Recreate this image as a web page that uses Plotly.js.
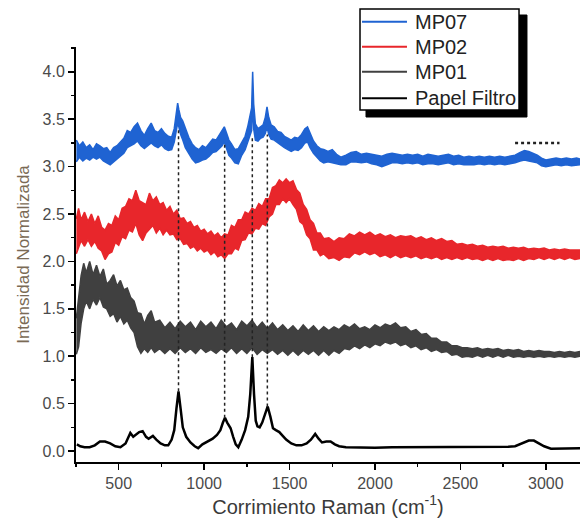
<!DOCTYPE html>
<html>
<head>
<meta charset="utf-8">
<script src="https://cdn.plot.ly/plotly-3.0.1.min.js"></script>
<style>
  html, body { margin: 0; padding: 0; background: #ffffff; }
  #chart { width: 582px; height: 525px; }
</style>
</head>
<body>
<div id="chart"></div>
<script>
// ---------- data ----------
const seriesNames = ["MP07", "MP02", "MP01", "Papel Filtro"];

// MP07 (blue): upper / lower edges of the noisy trace
const mp07X = [252,270,290,310,330,350,370,390,410,430,450,470,490,510,530,550,570,590,610,630,650,670,690,710,730,750,770,790,810,825,838,845,852,862,875,890,910,930,950,970,990,1010,1030,1050,1070,1090,1105,1118,1130,1145,1160,1180,1200,1220,1240,1255,1268,1278,1284,1290,1300,1315,1330,1345,1358,1368,1378,1392,1410,1430,1450,1470,1490,1510,1530,1550,1570,1590,1605,1620,1640,1660,1680,1700,1725,1750,1775,1800,1830,1860,1890,1920,1950,1980,2010,2040,2070,2100,2130,2160,2190,2220,2250,2280,2310,2340,2370,2400,2430,2460,2490,2520,2550,2580,2610,2640,2670,2700,2730,2760,2790,2820,2850,2875,2900,2925,2950,2975,3000,3030,3060,3090,3120,3150,3180,3200];
const mp07Hi = [3.28,3.22,3.26,3.20,3.23,3.18,3.24,3.22,3.19,3.20,3.15,3.20,3.22,3.26,3.30,3.38,3.36,3.42,3.46,3.38,3.33,3.40,3.46,3.38,3.36,3.40,3.35,3.32,3.31,3.40,3.56,3.67,3.60,3.52,3.48,3.40,3.31,3.24,3.20,3.18,3.22,3.20,3.25,3.29,3.28,3.34,3.38,3.42,3.36,3.28,3.24,3.18,3.19,3.26,3.32,3.42,3.52,3.62,4.00,3.66,3.45,3.40,3.42,3.44,3.52,3.63,3.52,3.44,3.42,3.37,3.36,3.32,3.30,3.28,3.31,3.30,3.34,3.40,3.42,3.35,3.27,3.22,3.19,3.18,3.16,3.18,3.13,3.10,3.12,3.15,3.16,3.13,3.14,3.13,3.12,3.11,3.13,3.14,3.13,3.12,3.13,3.12,3.13,3.11,3.13,3.12,3.11,3.12,3.13,3.11,3.12,3.10,3.11,3.10,3.11,3.10,3.11,3.10,3.11,3.10,3.11,3.12,3.15,3.17,3.16,3.14,3.12,3.09,3.07,3.08,3.09,3.08,3.09,3.08,3.09,3.08];
const mp07Lo = [3.05,3.10,3.06,3.09,3.07,3.10,3.08,3.10,3.06,3.04,3.02,3.05,3.08,3.10,3.14,3.20,3.22,3.24,3.27,3.22,3.19,3.22,3.25,3.22,3.20,3.23,3.19,3.17,3.18,3.26,3.38,3.46,3.42,3.34,3.28,3.20,3.14,3.08,3.04,3.05,3.07,3.08,3.11,3.15,3.16,3.19,3.22,3.26,3.20,3.12,3.09,3.04,3.03,3.12,3.18,3.26,3.32,3.38,3.70,3.40,3.28,3.27,3.30,3.31,3.35,3.42,3.34,3.29,3.28,3.25,3.22,3.20,3.18,3.16,3.18,3.17,3.20,3.25,3.26,3.20,3.14,3.10,3.06,3.04,3.05,3.04,3.03,3.02,3.02,3.05,3.05,3.04,3.05,3.03,3.02,3.00,3.02,3.04,3.04,3.03,3.04,3.03,3.04,3.02,3.03,3.03,3.02,3.03,3.04,3.02,3.03,3.02,3.02,3.02,3.03,3.02,3.03,3.02,3.03,3.02,3.03,3.04,3.06,3.07,3.06,3.05,3.04,3.01,3.00,3.01,3.02,3.01,3.02,3.01,3.02,3.02];

// MP02 (red)
const mp02X = [252,265,280,300,320,340,360,380,400,420,440,460,480,500,520,540,560,580,600,620,640,660,680,700,720,740,760,780,800,820,840,860,880,900,920,940,960,980,1000,1020,1040,1060,1080,1100,1120,1140,1160,1180,1200,1220,1240,1260,1280,1300,1320,1340,1360,1380,1400,1420,1440,1460,1480,1500,1520,1540,1560,1580,1600,1620,1640,1660,1680,1700,1730,1760,1790,1820,1850,1880,1910,1940,1970,2000,2030,2060,2090,2120,2150,2180,2210,2240,2270,2300,2330,2360,2390,2420,2450,2480,2510,2540,2570,2600,2630,2660,2690,2720,2750,2780,2810,2840,2870,2900,2930,2960,2990,3020,3050,3080,3110,3140,3170,3200];
const mp02Hi = [2.45,2.56,2.44,2.52,2.42,2.50,2.40,2.48,2.36,2.33,2.40,2.38,2.48,2.44,2.56,2.58,2.66,2.64,2.75,2.64,2.62,2.60,2.72,2.64,2.68,2.60,2.62,2.54,2.58,2.50,2.54,2.45,2.46,2.40,2.42,2.36,2.38,2.32,2.34,2.29,2.32,2.27,2.30,2.25,2.29,2.28,2.38,2.36,2.44,2.44,2.52,2.50,2.56,2.54,2.61,2.58,2.66,2.66,2.78,2.80,2.86,2.83,2.87,2.83,2.85,2.76,2.72,2.60,2.55,2.44,2.40,2.30,2.30,2.24,2.25,2.21,2.25,2.24,2.29,2.27,2.31,2.28,2.31,2.27,2.29,2.26,2.28,2.25,2.27,2.26,2.27,2.24,2.26,2.23,2.25,2.22,2.24,2.21,2.22,2.18,2.19,2.17,2.18,2.16,2.17,2.15,2.16,2.15,2.16,2.14,2.15,2.14,2.15,2.13,2.14,2.13,2.14,2.12,2.13,2.12,2.13,2.12,2.12,2.12];
const mp02Lo = [2.08,2.15,2.22,2.16,2.23,2.16,2.21,2.14,2.11,2.02,2.08,2.10,2.20,2.17,2.26,2.24,2.33,2.31,2.40,2.28,2.22,2.30,2.34,2.38,2.30,2.35,2.28,2.33,2.28,2.29,2.23,2.24,2.18,2.19,2.14,2.16,2.11,2.14,2.10,2.12,2.07,2.10,2.05,2.07,2.03,2.08,2.08,2.14,2.12,2.22,2.23,2.30,2.29,2.35,2.34,2.40,2.38,2.47,2.50,2.60,2.60,2.66,2.62,2.66,2.60,2.55,2.42,2.39,2.28,2.24,2.12,2.12,2.06,2.08,2.03,2.04,2.01,2.05,2.04,2.09,2.07,2.10,2.07,2.09,2.05,2.07,2.04,2.07,2.04,2.06,2.04,2.06,2.03,2.05,2.03,2.05,2.02,2.04,2.02,2.04,2.02,2.04,2.02,2.03,2.01,2.03,2.01,2.03,2.01,2.02,2.01,2.03,2.01,2.03,2.02,2.04,2.02,2.04,2.02,2.04,2.02,2.04,2.02,2.03];

// MP01 (dark grey)
const mp01X = [252,265,280,295,310,330,350,370,390,410,430,450,470,490,510,530,550,570,590,610,630,650,670,690,710,740,770,800,830,860,890,920,950,980,1010,1040,1070,1100,1130,1160,1190,1220,1250,1280,1310,1340,1370,1400,1430,1460,1490,1520,1550,1580,1610,1640,1670,1700,1730,1760,1790,1820,1850,1880,1910,1940,1970,2000,2030,2060,2090,2120,2150,2180,2210,2240,2270,2300,2330,2360,2390,2420,2450,2480,2510,2540,2570,2600,2630,2660,2690,2720,2750,2780,2810,2840,2870,2900,2930,2960,2990,3020,3050,3080,3110,3140,3170,3200];
const mp01Hi = [1.40,1.60,1.85,1.98,1.88,2.00,1.86,1.96,1.84,1.92,1.76,1.80,1.86,1.74,1.80,1.70,1.72,1.62,1.58,1.46,1.45,1.34,1.43,1.48,1.36,1.38,1.30,1.36,1.29,1.37,1.31,1.36,1.28,1.37,1.31,1.36,1.29,1.38,1.31,1.35,1.28,1.37,1.32,1.38,1.30,1.36,1.29,1.35,1.28,1.33,1.27,1.32,1.26,1.33,1.27,1.32,1.26,1.31,1.27,1.31,1.28,1.33,1.30,1.34,1.29,1.31,1.28,1.33,1.30,1.34,1.32,1.35,1.30,1.31,1.26,1.28,1.23,1.24,1.19,1.19,1.15,1.15,1.11,1.11,1.09,1.09,1.08,1.09,1.07,1.08,1.07,1.08,1.06,1.07,1.06,1.07,1.05,1.06,1.05,1.06,1.05,1.05,1.04,1.05,1.04,1.05,1.04,1.05];
const mp01Lo = [1.02,1.10,1.35,1.50,1.58,1.50,1.60,1.54,1.62,1.52,1.50,1.42,1.45,1.36,1.42,1.34,1.38,1.30,1.25,1.10,1.03,1.08,1.04,1.09,1.04,1.08,1.03,1.08,1.03,1.09,1.04,1.08,1.03,1.09,1.04,1.07,1.03,1.08,1.04,1.09,1.03,1.08,1.03,1.09,1.02,1.07,1.03,1.07,1.02,1.06,1.01,1.06,1.01,1.06,1.02,1.06,1.01,1.06,1.01,1.06,1.03,1.08,1.07,1.11,1.08,1.12,1.09,1.13,1.11,1.15,1.13,1.15,1.11,1.13,1.09,1.11,1.07,1.09,1.05,1.07,1.04,1.05,1.01,1.02,0.99,1.00,0.99,1.01,0.99,1.01,0.99,1.01,0.99,1.01,0.99,1.00,0.99,1.00,0.99,1.00,0.99,1.00,0.99,1.00,0.99,1.00,0.99,1.00];

// Papel Filtro (black)
const pfX = [255,275,300,330,360,390,420,450,480,510,540,568,585,600,620,640,660,675,700,720,745,770,790,810,825,838,850,862,875,895,920,945,965,990,1020,1050,1075,1095,1110,1122,1135,1155,1170,1185,1200,1220,1240,1258,1270,1282,1292,1302,1312,1325,1340,1355,1372,1388,1403,1420,1440,1460,1480,1510,1540,1570,1600,1625,1650,1670,1690,1715,1740,1765,1790,1830,1900,2000,2100,2200,2300,2400,2500,2600,2700,2780,2820,2860,2900,2930,2960,2990,3030,3080,3120,3160,3200];
const pfY = [0.07,0.05,0.04,0.04,0.06,0.10,0.10,0.08,0.05,0.04,0.08,0.19,0.15,0.17,0.20,0.21,0.15,0.13,0.16,0.12,0.08,0.06,0.06,0.12,0.22,0.45,0.63,0.45,0.25,0.15,0.09,0.05,0.03,0.07,0.10,0.13,0.17,0.22,0.30,0.35,0.30,0.24,0.15,0.07,0.04,0.12,0.22,0.36,0.60,0.99,0.60,0.32,0.26,0.25,0.30,0.38,0.47,0.36,0.24,0.22,0.20,0.16,0.12,0.08,0.06,0.06,0.08,0.12,0.18,0.13,0.09,0.10,0.10,0.07,0.05,0.04,0.035,0.035,0.04,0.04,0.04,0.04,0.04,0.04,0.04,0.045,0.05,0.08,0.11,0.11,0.08,0.05,0.025,0.025,0.03,0.025,0.03];

// dotted guide lines linking bands (position, bottom value, top value)
const guideX = [850, 1120, 1282, 1370];
const guideBottom = [0.63, 0.35, 0.99, 0.47];
const guideTop = [3.40, 3.26, 3.32, 3.34];
// small dotted mark at top right
const markX = [2820, 3080];
const markY = 3.25;

// tick labels
const xTicks = [500, 1000, 1500, 2000, 2500, 3000];
const yTicks = [0.0, 0.5, 1.0, 1.5, 2.0, 2.5, 3.0, 3.5, 4.0];

// ---------- build the figure ----------
const seriesColors = ["#1f63d2", "#e8262b", "#404040", "#000000"];

function band(name, color, x, hi, lo) {
  return [
    { x: x, y: lo, type: "scatter", mode: "lines", name: name, showlegend: false,
      line: { color: color, width: 1.5 }, hoverinfo: "skip" },
    { x: x, y: hi, type: "scatter", mode: "lines", name: name, showlegend: false,
      fill: "tonexty", fillcolor: color,
      line: { color: color, width: 1.5 }, hoverinfo: "skip" }
  ];
}

const data = [].concat(
  band(seriesNames[0], seriesColors[0], mp07X, mp07Hi, mp07Lo),
  band(seriesNames[1], seriesColors[1], mp02X, mp02Hi, mp02Lo),
  band(seriesNames[2], seriesColors[2], mp01X, mp01Hi, mp01Lo),
  [{ x: pfX, y: pfY, type: "scatter", mode: "lines", name: seriesNames[3], showlegend: false,
     line: { color: seriesColors[3], width: 2.5 }, hoverinfo: "skip" }]
);

const shapes = guideX.map((gx, i) => ({
  type: "line", xref: "x", yref: "y", x0: gx, x1: gx, y0: guideBottom[i], y1: guideTop[i],
  line: { color: "#222", width: 1.5, dash: "dot" }, layer: "above"
}));
shapes.push({
  type: "line", xref: "x", yref: "y", x0: markX[0], x1: markX[1], y0: markY, y1: markY,
  line: { color: "#222", width: 2.5, dash: "dot" }
});

// legend box (drawn by hand to match the boxed, shadowed legend)
const legBox = { x0: 0.5635, x1: 0.8790, y0: 0.848, y1: 1.0916 };
const legRows = [1.061, 1.0007, 0.9405, 0.8764];
const legLine = [0.5675, 0.6567];
const legTextX = 0.6687;
// drop shadow as one L-shaped polygon (paper coordinates)
shapes.push({ type: "path", xref: "paper", yref: "paper",
  path: "M 0.5754 0.8313 L 0.8948 0.8313 L 0.8948 1.0771 L 0.8790 1.0771 L 0.8790 0.8480 L 0.5754 0.8480 Z",
  fillcolor: "#000000", line: { color: "#000000", width: 1 }, layer: "above" });
shapes.push({ type: "rect", xref: "paper", yref: "paper", x0: legBox.x0, x1: legBox.x1, y0: legBox.y0, y1: legBox.y1,
  fillcolor: "#ffffff", line: { color: "#000", width: 1.5 }, layer: "above" });
const font = "Arial, 'Liberation Sans', sans-serif";
const annotations = [];
seriesNames.forEach((nm, i) => {
  shapes.push({ type: "line", xref: "paper", yref: "paper", x0: legLine[0], x1: legLine[1], y0: legRows[i], y1: legRows[i],
    line: { color: seriesColors[i], width: 2 }, layer: "above" });
  annotations.push({ xref: "paper", yref: "paper", x: legTextX, y: legRows[i], xanchor: "left", yanchor: "middle",
    text: nm, showarrow: false, font: { family: font, size: 20, color: "#222" } });
});

const layout = {
  width: 582, height: 525,
  margin: { l: 76, r: 2, t: 47, b: 63 },
  paper_bgcolor: "#ffffff", plot_bgcolor: "#ffffff",
  font: { family: font, color: "#444" },
  showlegend: false,
  xaxis: {
    range: [250, 3200], showgrid: false, zeroline: false,
    showline: true, linecolor: "#000", linewidth: 2, mirror: false,
    tickmode: "array", tickvals: xTicks, ticktext: xTicks.map(String),
    ticks: "outside", ticklen: 6, tickwidth: 1.5, tickcolor: "#000",
    minor: { dtick: 250, tick0: 0, ticks: "outside", ticklen: 3, tickwidth: 1.5, tickcolor: "#000" },
    tickfont: { family: font, size: 16, color: "#4a4a4a" },
    title: { text: "Corrimiento Raman (cm<sup>-1</sup>)", font: { family: font, size: 20, color: "#3a3a3a" }, standoff: 6 }
  },
  yaxis: {
    range: [-0.116, 4.262], showgrid: false, zeroline: false,
    showline: true, linecolor: "#000", linewidth: 2, mirror: false,
    tickmode: "array", tickvals: yTicks, ticktext: yTicks.map(v => v.toFixed(1)),
    ticks: "outside", ticklen: 6, tickwidth: 1.5, tickcolor: "#000",
    minor: { dtick: 0.25, tick0: 0, ticks: "outside", ticklen: 3, tickwidth: 1.5, tickcolor: "#000" },
    tickfont: { family: font, size: 16, color: "#4a4a4a" },
    title: { text: "Intensidad Normalizada", font: { family: font, size: 17, color: "#7a6a55" }, standoff: 9 }
  },
  shapes: shapes,
  annotations: annotations
};

Plotly.newPlot("chart", data, layout, { displayModeBar: false, staticPlot: true });
</script>
</body>
</html>
